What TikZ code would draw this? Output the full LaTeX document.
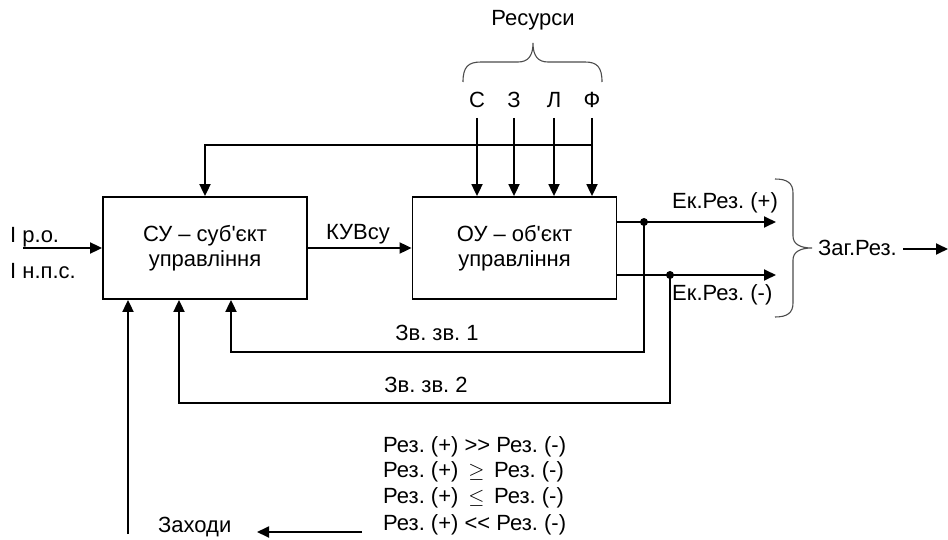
\documentclass[tikz,border=0pt]{standalone}
\usepackage{fontspec}
\setmainfont{Liberation Sans}[Ligatures=TeXOff]
\usetikzlibrary{arrows.meta}
\frenchspacing
\begin{document}
\begin{tikzpicture}[x=1pt,y=-1pt,
  font=\fontsize{22}{25}\selectfont\frenchspacing,
  wire/.style={line width=1.8pt},
  arr/.style={wire,-{Triangle[length=12pt,width=11pt]}},
  box/.style={draw,line width=1.8pt,minimum width=204pt,minimum height=102pt,align=center,inner sep=0pt},
  lbl/.style={inner sep=0pt,anchor=base},
  lblw/.style={inner sep=0pt,anchor=base west},
  brc/.style={line width=1.1pt,draw=black!70},
  dot/.style={circle,fill,inner sep=0pt,minimum size=8pt}]
\useasboundingbox (0,0) rectangle (948,540);

% boxes
\node[box] (su) at (205,248) {СУ – суб'єкт\\управління};
\node[box] (ou) at (514.5,248) {ОУ – об'єкт\\управління};

% resources
\node[lbl] (res) at (533,26) {Ресурси};
\node[lbl] (rc) at (477,108) {С};
\node[lbl] (rz) at (514,108) {З};
\node[lbl] (rl) at (554,108) {Л};
\node[lbl] (rf) at (592,108) {Ф};
\draw[brc] (463,82) .. controls (463,67) and (468,62) .. (481,62) -- (518,62)
  .. controls (528,62) and (533,56) .. (533,43)
  .. controls (533,56) and (538,62) .. (548,62) -- (585,62)
  .. controls (597,62) and (602,67) .. (602,82);
\foreach \r in {rc,rz,rl,rf}
  \draw[arr] ([yshift=-10pt]\r.base) -- (\r.base |- ou.north);

% top feedback
\coordinate (fbc) at (592,145);
\draw[arr] (fbc) -| (su.north);

% input
\node[lblw] (ipo) at (10,243) {I р.о.};
\node[lblw] (inps) at (10,278) {I н.п.с.};
\coordinate (inl) at (23,248);
\draw[arr] (inl) -- (su.west);

% control
\node[lbl] (kuv) at (358,240) {КУВсу};
\draw[arr] (su.east) -- (ou.west);

% outputs
\path (ou.east) ++(0,-26) coordinate (o1s);
\path (ou.east) ++(0,27) coordinate (o2s);
\coordinate (o1e) at (776,222);
\coordinate (o2e) at (776,275);
\draw[arr] (o1s) -- (o1e);
\draw[arr] (o2s) -- (o2e);
\node[dot] (d1) at (644,222) {};
\node[dot] (d2) at (670,275) {};
\node[lblw] (ekp) at (672,209) {Ек.Рез. (+)};
\node[lblw] (ekm) at (672,300) {Ек.Рез. (-)};

% right brace
\draw[brc] (775,179) .. controls (787,179) and (793,183) .. (793,193) -- (793,236)
  .. controls (793,244) and (800,248) .. (812,248)
  .. controls (800,248) and (793,252) .. (793,260) -- (793,303)
  .. controls (793,313) and (787,317) .. (775,317);
\node[lblw] (zag) at (818,255) {Заг.Рез.};
\coordinate (zs) at (903,249);
\coordinate (ze) at (948,249);
\draw[arr] (zs) -- (ze);

% feedback loops
\coordinate (fb1) at (231,352);
\coordinate (fb2) at (179,403);
\draw[arr] (d1.center) |- (fb1) -- (fb1 |- su.south);
\draw[arr] (d2.center) |- (fb2) -- (fb2 |- su.south);
\node[lbl] (zv1) at (437,340) {Зв. зв. 1};
\node[lbl] (zv2) at (426,392) {Зв. зв. 2};

% measures
\coordinate (zb) at (128,534);
\draw[arr] (zb) -- (zb |- su.south);
\node[lblw] (r1) at (383,452) {Рез. (+) >> Рез. (-)};
\node[lblw] (r2) at (383,477) {Рез. (+) \,$\geq$\, Рез. (-)};
\node[lblw] (r3) at (383,503) {Рез. (+) \,$\leq$\, Рез. (-)};
\node[lblw] (r4) at (383,530) {Рез. (+) << Рез. (-)};
\node[lblw] (zah) at (158,532) {Заходи};
\coordinate (za) at (362,532);
\coordinate (zt) at (257,532);
\draw[arr] (za) -- (zt);
\end{tikzpicture}
\end{document}
